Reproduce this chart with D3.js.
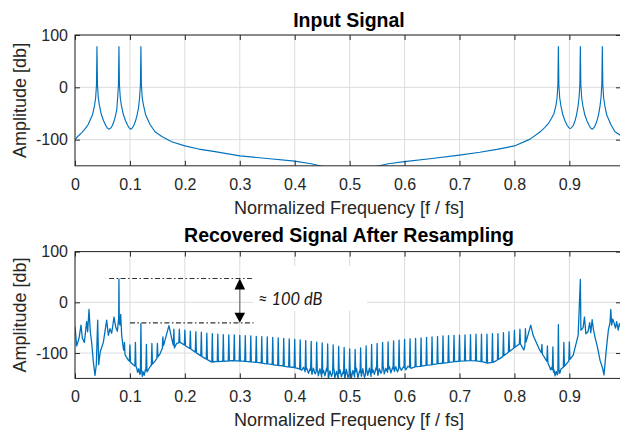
<!DOCTYPE html>
<html>
<head>
<meta charset="utf-8">
<script src="https://d3js.org/d3.v7.min.js"></script>
<style>
  body { margin: 0; background: #fff; }
  text { font-family: "Liberation Sans", Arial, sans-serif; fill: #262626; }
</style>
</head>
<body>
<svg class="chart" width="620" height="432"></svg>
<script>
// tick labels
var xTicks = [0, 0.1, 0.2, 0.3, 0.4, 0.5, 0.6, 0.7, 0.8, 0.9],
    yTicks = [-100, 0, 100];

// input signal spectrum (top plot)
var inputFreq = [0, 0.006, 0.012, 0.018, 0.024, 0.032, 0.0355, 0.0376, 0.0391, 0.04,
  0.0409, 0.0424, 0.0445, 0.048, 0.052, 0.056, 0.059, 0.062, 0.065, 0.068, 0.071, 0.074,
  0.076, 0.0776, 0.0791, 0.08,
  0.0809, 0.0824, 0.0845, 0.088, 0.092, 0.096, 0.099, 0.1015, 0.104, 0.107, 0.11, 0.113,
  0.1155, 0.1176, 0.1191, 0.12,
  0.1209, 0.1224, 0.1245, 0.1287, 0.1366, 0.1457, 0.158, 0.176, 0.2, 0.225, 0.255, 0.3,
  0.35, 0.4, 0.43, 0.446, 0.47, 0.5, 0.53, 0.554, 0.57, 0.6, 0.65, 0.7, 0.737, 0.768,
  0.8, 0.8285, 0.847, 0.855, 0.862, 0.868, 0.872, 0.8755, 0.8776, 0.8791, 0.88,
  0.8809, 0.8824, 0.8845, 0.888, 0.892, 0.896, 0.899, 0.9015, 0.904, 0.907, 0.91, 0.913,
  0.9155, 0.9176, 0.9191, 0.92,
  0.9209, 0.9224, 0.9245, 0.928, 0.932, 0.936, 0.939, 0.9415, 0.944, 0.947, 0.95, 0.953,
  0.9555, 0.9576, 0.9591, 0.96,
  0.9609, 0.9624, 0.9645, 0.968, 0.976, 0.983, 0.992, 0.994];
var inputDb = [-100, -93, -87, -80, -71, -52, -35, -20, 5, 78,
  5, -20, -35, -52, -64, -73, -78, -80, -78, -73, -65, -53,
  -43, -20, 5, 78,
  5, -20, -35, -52, -64, -73, -78, -80, -78, -73, -65, -53,
  -40, -20, 5, 78,
  5, -20, -33, -53, -71, -85, -94, -104, -112, -118, -123, -131,
  -136, -141, -146, -150, -155, -160, -155, -150, -146, -142, -136, -129.5, -124, -118.6,
  -112, -99, -85, -77, -69, -58, -50, -35, -20, 5, 78,
  5, -20, -35, -52, -64, -73, -77, -79, -77, -73, -65, -53,
  -38, -20, 5, 78,
  5, -20, -35, -52, -64, -73, -78, -80, -78, -73, -65, -53,
  -38, -20, 5, 78,
  5, -20, -35, -53, -72, -85, -91, -92];

// recovered signal (bottom plot): noise floor and the irregular parts
var recFreq = [0, 0.003, 0.0073, 0.0109, 0.0134, 0.017, 0.0212, 0.023, 0.0255, 0.0279,
  0.0303, 0.0334, 0.0364, 0.0388, 0.0413, 0.0431, 0.0461, 0.0516, 0.0577, 0.0607, 0.0637,
  0.0668, 0.071, 0.074, 0.0771, 0.0795, 0.08, 0.0806, 0.0819, 0.0832, 0.085, 0.088, 0.0915,
  0.097, 0.106, 0.112, 0.114, 0.116, 0.118, 0.1215, 0.1225, 0.124, 0.126, 0.128, 0.131,
  0.1366, 0.1457, 0.155, 0.1615, 0.171, 0.176, 0.1805, 0.185, 0.1915, 0.212, 0.231, 0.249,
  0.2555, 0.2655, 0.2755, 0.2855, 0.2955, 0.3055, 0.3155, 0.3255, 0.3355, 0.3455, 0.3555,
  0.3655, 0.3755, 0.3855, 0.3955, 0.4055, 0.413, 0.416, 0.419, 0.422, 0.425, 0.428,
  0.4315, 0.434, 0.437, 0.4415, 0.443, 0.446, 0.449, 0.4525, 0.455, 0.458, 0.4615, 0.464,
  0.467, 0.4715, 0.473, 0.476, 0.479, 0.4825, 0.485, 0.488, 0.4915, 0.494, 0.497, 0.5015,
  0.503, 0.506, 0.509, 0.5125, 0.515, 0.518, 0.5215, 0.524, 0.527, 0.5315, 0.533, 0.536,
  0.539, 0.5425, 0.545, 0.548, 0.5515, 0.554, 0.557, 0.5615, 0.563, 0.566, 0.569, 0.5725,
  0.575, 0.578, 0.5815, 0.584, 0.587, 0.5915, 0.594, 0.598, 0.6025, 0.606, 0.6115, 0.6205,
  0.6305, 0.6405, 0.6505, 0.6605, 0.6705, 0.6805, 0.6905, 0.7005, 0.7105, 0.7205, 0.7305,
  0.7405, 0.7505, 0.762, 0.774, 0.786, 0.798, 0.8105, 0.817, 0.8297, 0.834, 0.8405, 0.846,
  0.8555, 0.862, 0.866, 0.868, 0.8705, 0.872, 0.874, 0.876, 0.878, 0.8815, 0.8825, 0.885,
  0.8895, 0.898, 0.907, 0.913, 0.916, 0.92, 0.921, 0.925, 0.9275, 0.93, 0.934, 0.937,
  0.939, 0.9415, 0.944, 0.947, 0.951, 0.956, 0.9605, 0.963, 0.965, 0.968, 0.971, 0.974,
  0.9755, 0.977, 0.979, 0.981, 0.984, 0.986, 0.989, 0.991, 0.994];
var recDb = [-48, -86, -71, -45, -71, -79, -38, -58, -14, -58,
  -79, -117, -144, -123, -35, -123, -97, -79, -35, -65, -52,
  -61, -29, -48, -57, -32, 46, -40, -45, -24, -65, -91, -104,
  -114, -123, -128, -138, -131, -142, -135, -146, -137, -144, -133, -137,
  -127, -116, -101, -84, -46, -71, -91, -81, -79, -93, -107, -118,
  -117, -116.5, -116, -115, -115.5, -116, -117, -118, -119, -121, -122,
  -124, -125, -127, -128, -130, -134, -128, -137, -130, -140, -131,
  -142, -130, -141, -133, -145, -131, -147, -134, -145, -130, -150, -135,
  -146, -131, -149, -136, -150, -133, -147, -137, -150, -132, -148, -136,
  -150, -134, -147, -130, -149, -135, -146, -131, -148, -134, -144, -130,
  -146, -133, -142, -129, -144, -131, -140, -128, -141, -130, -138, -127,
  -139, -129, -136, -127, -137, -128, -134, -127, -133, -126, -130, -127,
  -126, -124, -123, -121, -120, -118.5, -117, -116, -115.5, -115, -115.5,
  -117, -120, -118, -110.5, -101, -91, -81, -94, -45, -65, -81, -94,
  -110, -122, -133, -128, -140, -133, -145, -136, -143, -134, -140, -131,
  -128, -117, -104, -78, -65, 45, -55, -50, -29, -62, -58, -40,
  -60, -34, -55, -70, -88, -115, -130, -143, -120, -85, -55, -40,
  -14, -45, -33, -39, -51, -38, -55, -42, -50];

// comb of narrow spikes standing on the floor
var combFreq = [0.09, 0.10, 0.11, 0.12, 0.13, 0.14, 0.15, 0.16,
  0.18, 0.19, 0.20, 0.21, 0.22, 0.23, 0.24, 0.25, 0.26, 0.27, 0.28, 0.29,
  0.30, 0.31, 0.32, 0.33, 0.34, 0.35, 0.36, 0.37, 0.38, 0.39,
  0.40, 0.41, 0.42, 0.43, 0.44, 0.45, 0.46, 0.47, 0.48, 0.49,
  0.50, 0.51, 0.52, 0.53, 0.54, 0.55, 0.56, 0.57, 0.58, 0.59,
  0.60, 0.61, 0.62, 0.63, 0.64, 0.65, 0.66, 0.67, 0.68, 0.69,
  0.70, 0.71, 0.72, 0.73, 0.74, 0.75, 0.76, 0.77, 0.78, 0.79,
  0.80, 0.81, 0.82, 0.84, 0.85, 0.86, 0.87, 0.88, 0.89, 0.90];
var combTop = [-79, -84, -79, -42, -83, -81, -81, -68,
  -53, -53, -55, -57, -58, -59, -61, -62, -63, -63.5, -64, -64,
  -65, -65.5, -66, -67, -67.5, -68, -69, -70, -71, -72,
  -73, -74, -75.5, -77, -78.5, -80, -82, -84, -87, -89,
  -92, -93, -90, -86, -83, -81, -79, -78, -76, -74.5,
  -73, -72, -71, -70, -69, -68, -67, -66, -65.5, -65,
  -64.5, -64, -63.5, -63, -63, -63, -62, -62, -60, -58,
  -55, -53, -52, -79, -83, -86, -88, -44, -79, -78];

// the "about 100 dB" marker: two levels, line extents and arrow position
var markLevels = [47, -40.5],
    markStart = [0.062, 0.10],
    markEnd = [0.322, 0.325],
    markArrowAt = 0.3;

var blue = "#0072bd", axisColor = "#262626", gridColor = "#dcdcdc";

var svg = d3.select(".chart");

// shared x scale, the right edge of the box falls just off the picture
var x = d3.scaleLinear().domain([0, 0.994]).range([75, 621]);

var panels = [
  {title: "Input Signal", top: 35, bottom: 165.8, titleY: 27},
  {title: "Recovered Signal After Resampling", top: 251.6, bottom: 378.4, titleY: 241.5}
];

function drawPanel(p, i) {
  var y = d3.scaleLinear().domain([-150, 100]).range([p.bottom, p.top]);
  var g = svg.append("g");

  // clip for the data
  svg.append("clipPath").attr("id", "clip" + i)
    .append("rect")
    .attr("x", x.range()[0]).attr("y", p.top)
    .attr("width", x.range()[1] - x.range()[0]).attr("height", p.bottom - p.top);

  // grid
  g.selectAll(".gx").data(xTicks).enter().append("line")
    .attr("x1", function(d) { return x(d); }).attr("x2", function(d) { return x(d); })
    .attr("y1", p.top).attr("y2", p.bottom)
    .attr("stroke", gridColor).attr("stroke-width", 1);
  g.selectAll(".gy").data(yTicks).enter().append("line")
    .attr("x1", x.range()[0]).attr("x2", x.range()[1])
    .attr("y1", function(d) { return y(d); }).attr("y2", function(d) { return y(d); })
    .attr("stroke", gridColor).attr("stroke-width", 1);

  p.y = y;
  p.g = g;
  p.plot = g.append("g").attr("clip-path", "url(#clip" + i + ")");
}

function drawFrame(p) {
  var g = p.g, y = p.y;
  var fmt = function(d) { return String(d); };

  var bottomAxis = g.append("g")
    .attr("transform", "translate(0," + p.bottom + ")")
    .call(d3.axisBottom(x).tickValues(xTicks).tickSizeInner(-5).tickSizeOuter(0)
      .tickPadding(12.5).tickFormat(fmt));
  var topAxis = g.append("g")
    .attr("transform", "translate(0," + p.top + ")")
    .call(d3.axisTop(x).tickValues(xTicks).tickSizeInner(-5).tickSizeOuter(0).tickFormat(""));
  var leftAxis = g.append("g")
    .attr("transform", "translate(" + x.range()[0] + ",0)")
    .call(d3.axisLeft(y).tickValues(yTicks).tickSizeInner(-5).tickSizeOuter(0)
      .tickPadding(7).tickFormat(fmt));
  var rightAxis = g.append("g")
    .attr("transform", "translate(" + x.range()[1] + ",0)")
    .call(d3.axisRight(y).tickValues(yTicks).tickSizeInner(-5).tickSizeOuter(0).tickFormat(""));

  [bottomAxis, topAxis, leftAxis, rightAxis].forEach(function(a) {
    a.select(".domain").remove();
    a.selectAll("line").attr("stroke", axisColor);
    a.selectAll("text").attr("fill", axisColor)
      .style("font-size", "16px").style("font-family", "'Liberation Sans', Arial, sans-serif");
  });

  // box
  g.append("rect")
    .attr("x", x.range()[0]).attr("y", p.top)
    .attr("width", x.range()[1] - x.range()[0]).attr("height", p.bottom - p.top)
    .attr("fill", "none").attr("stroke", axisColor).attr("stroke-width", 1);

  // title
  g.append("text")
    .attr("x", (x.range()[0] + x.range()[1]) / 2 + 1)
    .attr("y", p.titleY)
    .style("text-anchor", "middle")
    .style("font-size", "19.5px").style("font-weight", "bold").style("fill", "#000")
    .text(p.title);

  // x label
  g.append("text")
    .attr("x", (x.range()[0] + x.range()[1]) / 2 + 1)
    .attr("y", p.bottom + 48)
    .style("text-anchor", "middle")
    .style("font-size", "18px")
    .text("Normalized Frequency [f / fs]");

  // y label
  g.append("text")
    .attr("transform", "translate(26," + ((p.top + p.bottom) / 2) + ") rotate(-90)")
    .style("text-anchor", "middle")
    .style("font-size", "18px")
    .text("Amplitude [db]");
}

panels.forEach(drawPanel);

var line = function(y) {
  return d3.line()
    .x(function(d) { return x(d[0]); })
    .y(function(d) { return y(d[1]); });
};

// top: input signal
var inputPts = inputFreq.map(function(f, i) { return [f, inputDb[i]]; });
panels[0].plot.append("path")
  .datum(inputPts)
  .attr("d", line(panels[0].y))
  .attr("fill", "none").attr("stroke", blue).attr("stroke-width", 1.15)
  .attr("stroke-linejoin", "round");

// bottom: floor plus comb spikes merged into one trace
var floorAt = function(f) {
  var i = d3.bisectLeft(recFreq, f);
  if (i <= 0) return recDb[0];
  if (i >= recFreq.length) return recDb[recDb.length - 1];
  var t = (f - recFreq[i - 1]) / (recFreq[i] - recFreq[i - 1]);
  return recDb[i - 1] + t * (recDb[i] - recDb[i - 1]);
};
var half = 0.001;
var recPts = recFreq.map(function(f, i) { return [f, recDb[i]]; })
  .filter(function(d) {
    return !combFreq.some(function(c) { return Math.abs(d[0] - c) <= half; });
  });
combFreq.forEach(function(c, i) {
  recPts.push([c - half, floorAt(c - half)]);
  recPts.push([c, combTop[i]]);
  recPts.push([c + half, floorAt(c + half)]);
});
recPts.sort(function(a, b) { return a[0] - b[0]; });

var yb = panels[1].y;

// white box behind the annotation text
panels[1].g.append("rect")
  .attr("x", 253).attr("y", 266).attr("width", 114).attr("height", 45)
  .attr("fill", "#fff");

panels[1].plot.append("path")
  .datum(recPts)
  .attr("d", line(yb))
  .attr("fill", "none").attr("stroke", blue).attr("stroke-width", 1.3)
  .attr("stroke-linejoin", "round");

panels.forEach(drawFrame);

// annotation: dash-dot levels, double arrow and label
var ann = svg.append("g");
markLevels.forEach(function(v, i) {
  ann.append("line")
    .attr("x1", x(markStart[i])).attr("x2", x(markEnd[i]))
    .attr("y1", yb(v)).attr("y2", yb(v))
    .attr("stroke", "#333").attr("stroke-width", 1.1)
    .attr("stroke-dasharray", "5,2.5,1.5,2.5");
});
var ax = x(markArrowAt), yTop = yb(markLevels[0]), yBot = yb(markLevels[1]);
ann.append("line")
  .attr("x1", ax).attr("x2", ax).attr("y1", yTop + 8).attr("y2", yBot - 8)
  .attr("stroke", "#777").attr("stroke-width", 1.3);
ann.append("path")
  .attr("d", "M" + ax + "," + yTop + " L" + (ax - 5.3) + "," + (yTop + 11) + " L" + (ax + 5.3) + "," + (yTop + 11) + " Z")
  .attr("fill", "#000");
ann.append("path")
  .attr("d", "M" + ax + "," + yBot + " L" + (ax - 5.3) + "," + (yBot - 10) + " L" + (ax + 5.3) + "," + (yBot - 10) + " Z")
  .attr("fill", "#000");
ann.append("text")
  .attr("x", 258).attr("y", 305)
  .style("font-family", "Lato, 'Open Sans', sans-serif")
  .style("font-style", "italic")
  .style("font-size", "16.5px")
  .style("fill", "#1a1a1a")
  .text("\u2248 100 dB");
</script>
</body>
</html>
